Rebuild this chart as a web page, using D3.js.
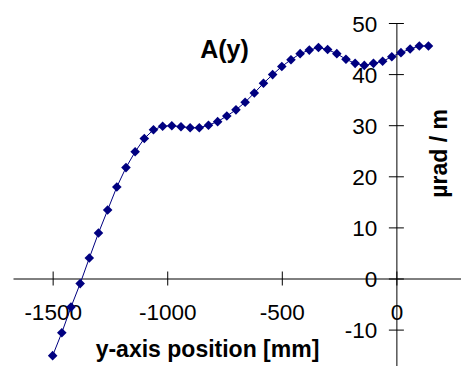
<!DOCTYPE html>
<html>
<head>
<meta charset="utf-8">
<script src="https://cdn.jsdelivr.net/npm/d3@7"></script>
<style>
  body { margin: 0; background: #fff; }
  text { font-family: Arial, "Liberation Sans", sans-serif; fill: #000; }
</style>
</head>
<body>
<div id="chart-area"></div>
<script>
//============================DATA============================
var positions = [-1500, -1460, -1420, -1380, -1340, -1300, -1260, -1220, -1180, -1140,
                 -1100, -1060, -1020, -980, -940, -900, -860, -820, -780, -740,
                 -700, -660, -620, -580, -540, -500, -460, -420, -380, -340,
                 -300, -260, -220, -180, -140, -100, -60, -20, 20, 60, 100, 140];
var values = [-15.1, -10.6, -5.6, -1.0, 4.0, 8.9, 13.4, 17.9, 21.7, 24.8,
              27.4, 29.1, 29.8, 29.9, 29.7, 29.5, 29.5, 30.0, 30.7, 31.8,
              33.0, 34.5, 36.3, 38.2, 39.9, 41.5, 42.8, 44.0, 44.7, 45.2,
              44.8, 44.0, 42.9, 42.1, 41.7, 42.1, 42.5, 43.4, 44.2, 44.9, 45.5, 45.5];
var xTicks = [-1500, -1000, -500, 0];
var yTicks = [-10, 0, 10, 20, 30, 40, 50];

//============================GLOBALS============================
var width = 461, height = 366;
var lineColor = "#000080";

var svg = d3.select("#chart-area")
    .append("svg")
    .attr("width", width)
    .attr("height", height);

var data = positions.map(function(p, i){ return { pos: p, val: values[i] }; });

var x = d3.scaleLinear()
    .domain([-1673, 282])
    .range([13, 461]);

var y = d3.scaleLinear()
    .domain([-17.2, 50])
    .range([366.4, 23]);

// plain hyphen for negatives, like the original
var fmt = function(d){ return String(d); };

// x axis sits on y = 0
var xAxisCall = d3.axisBottom(x)
    .tickValues(xTicks)
    .tickSizeOuter(0)
    .tickFormat(fmt);

var xAxis = svg.append("g")
    .attr("class", "x axis")
    .attr("transform", "translate(0," + y(0) + ")")
    .call(xAxisCall);

xAxis.selectAll(".tick line").attr("y1", -7).attr("y2", 7);
xAxis.selectAll(".tick text")
    .attr("y", 41.5)
    .attr("dy", 0)
    .attr("font-size", "22.5px")
    .attr("font-family", "Arial, 'Liberation Sans', sans-serif");

// y axis sits on x = 0
var yAxisCall = d3.axisLeft(y)
    .tickValues(yTicks)
    .tickSizeOuter(0)
    .tickFormat(fmt);

var yAxis = svg.append("g")
    .attr("class", "y axis")
    .attr("transform", "translate(" + x(0) + ",0)")
    .call(yAxisCall);

yAxis.selectAll(".tick line").attr("x1", -7.5).attr("x2", 7.5);
yAxis.selectAll(".tick text")
    .attr("x", -19)
    .attr("dy", "0.36em")
    .attr("font-size", "22.5px")
    .attr("font-family", "Arial, 'Liberation Sans', sans-serif");

svg.selectAll(".axis path, .axis line")
    .attr("stroke", "#000")
    .attr("stroke-width", 1);

// connecting line
var line = d3.line()
    .x(function(d){ return x(d.pos); })
    .y(function(d){ return y(d.val); });

svg.append("path")
    .datum(data)
    .attr("fill", "none")
    .attr("stroke", lineColor)
    .attr("stroke-width", 1)
    .attr("d", line);

// diamond markers
var diamond = d3.symbol().type(d3.symbolSquare).size(46);

svg.selectAll(".marker")
    .data(data)
    .enter()
    .append("path")
    .attr("class", "marker")
    .attr("d", diamond)
    .attr("fill", lineColor)
    .attr("transform", function(d){
        return "translate(" + x(d.pos) + "," + y(d.val) + ") rotate(45)";
    });

// titles
svg.append("text")
    .attr("x", 224.5)
    .attr("y", 57.5)
    .attr("text-anchor", "middle")
    .attr("font-size", "25px")
    .attr("font-weight", "bold")
    .text("A(y)");

svg.append("text")
    .attr("x", 207.5)
    .attr("y", 357)
    .attr("text-anchor", "middle")
    .attr("font-size", "23px")
    .attr("font-weight", "bold")
    .text("y-axis position [mm]");

svg.append("text")
    .attr("transform", "translate(447,153.3) rotate(-90)")
    .attr("text-anchor", "middle")
    .attr("font-size", "23px")
    .attr("font-weight", "bold")
    .text("µrad / m");
</script>
</body>
</html>
